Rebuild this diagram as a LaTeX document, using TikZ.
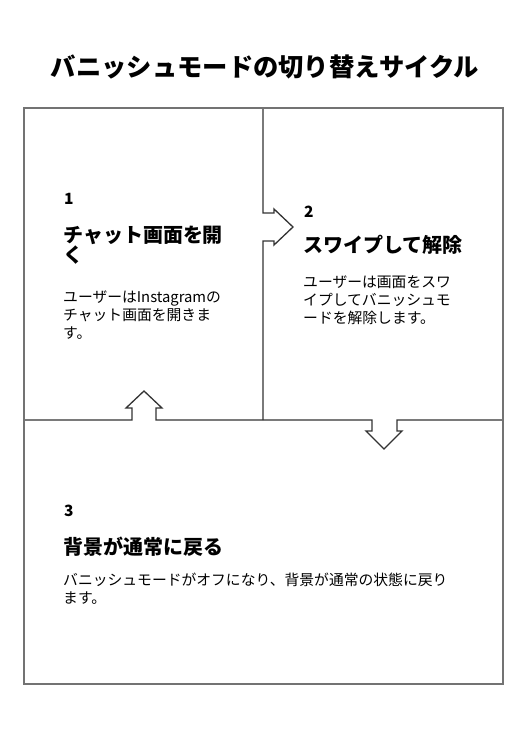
\documentclass[tikz,border=0pt]{standalone}
\usepackage{fontspec}
\setmainfont{Noto Sans CJK JP}
\begin{document}
\begin{tikzpicture}[x=1pt,y=-1pt,
  frame/.style={draw=black!55,line width=1.3pt},
  divider/.style={draw=black!80,line width=1.3pt,line join=miter},
  titletext/.style={font=\fontsize{25.3}{30}\selectfont\bfseries,anchor=base,inner sep=0pt},
  numtext/.style={font=\fontsize{15.5}{18}\selectfont\bfseries,anchor=base west,inner sep=0pt},
  headtext/.style={font=\fontsize{20}{19.5}\selectfont\bfseries,anchor=base west,inner sep=0pt,align=left},
  bodytext/.style={font=\fontsize{14.8}{18}\selectfont,anchor=base west,inner sep=0pt,align=left}]
\useasboundingbox (0,0) rectangle (528,732);
\fill[white] (0,0) rectangle (528,732);
% title
\node[titletext] (title) at (265,76.5) {バニッシュモードの切り替えサイクル};
% dividers with arrows
\coordinate (vtop) at (263,108);
\coordinate (vbot) at (263,420);
\coordinate (hl) at (24,420);
\coordinate (hr) at (503,420);
\draw[divider] (vtop) -- (263,213) -- (274,213) -- (274,209) -- (293,227)
  -- (274,245) -- (274,241) -- (263,241) -- (vbot);
\draw[divider] (hl) -- (132,420) -- (132,408) -- (126,408) -- (144,391)
  -- (162,408) -- (156,408) -- (156,420) -- (vbot) -- (372,420) -- (372,431)
  -- (366,431) -- (384,449) -- (402,431) -- (397,431) -- (397,420) -- (hr);
% frame
\draw[frame] (24,108) rectangle (503,684);
% box 1 (multi-line nodes: base = last line)
\node[numtext] (n1) at (64,204.5) {1};
\node[headtext] (h1) at (63,262) {チャット画面を開\\く};
\node[bodytext] (b1) at (63,338) {ユーザーはInstagramの\\チャット画面を開きま\\す。};
% box 2
\node[numtext] (n2) at (304,217.5) {2};
\node[headtext] (h2) at (303,252.5) {スワイプして解除};
\node[bodytext] (b2) at (303,323) {ユーザーは画面をスワ\\イプしてバニッシュモ\\ードを解除します。};
% box 3
\node[numtext] (n3) at (64,516.5) {3};
\node[headtext] (h3) at (63,554) {背景が通常に戻る};
\node[bodytext] (b3) at (63,603) {バニッシュモードがオフになり、背景が通常の状態に戻り\\ます。};
\end{tikzpicture}
\end{document}
